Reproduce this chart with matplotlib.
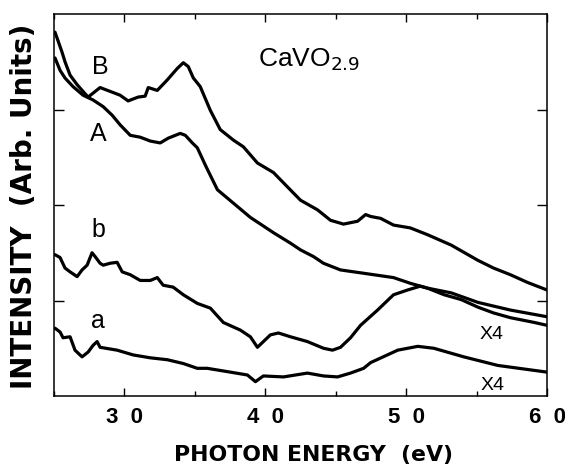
import matplotlib
matplotlib.use("Agg")
import matplotlib.pyplot as plt
from matplotlib.ticker import MultipleLocator

plt.rcParams['font.family'] = ['Liberation Sans', 'DejaVu Sans']

# ---- data (photon energy eV, intensity arb. units) ----
B_x = [25.07, 25.57, 25.78, 26.14, 26.64, 27.42, 28.27, 28.98, 29.69, 30.26, 30.97, 31.47,
       31.69, 32.33, 33.04, 33.75, 34.18, 34.53, 34.89, 35.38, 36.10, 36.80, 37.73, 38.44,
       39.44, 40.58, 41.57, 42.50, 43.70, 44.63, 45.55, 46.55, 47.12, 47.48, 48.19, 49.10,
       50.30, 51.50, 53.20, 55.10, 56.20, 57.40, 58.60, 60.0]
B_y = [3.81, 3.60, 3.50, 3.36, 3.26, 3.13, 3.23, 3.19, 3.15, 3.09, 3.13, 3.14,
       3.23, 3.20, 3.31, 3.43, 3.49, 3.45, 3.33, 3.24, 2.99, 2.79, 2.68, 2.61,
       2.44, 2.34, 2.19, 2.05, 1.95, 1.84, 1.80, 1.83, 1.90, 1.88, 1.86, 1.79,
       1.76, 1.69, 1.58, 1.42, 1.34, 1.27, 1.19, 1.11]

A_x = [25.07, 25.43, 25.78, 26.35, 27.06, 27.77, 28.49, 29.13, 29.69, 30.41, 31.12, 31.83,
       32.54, 33.11, 33.96, 34.32, 34.82, 35.17, 35.80, 36.60, 37.73, 38.94, 40.58, 41.79,
       42.50, 43.42, 44.13, 45.34, 46.76, 49.10, 50.30, 51.50, 53.20, 55.10, 57.40, 60.0]
A_y = [3.54, 3.41, 3.33, 3.24, 3.15, 3.10, 3.03, 2.94, 2.84, 2.73, 2.71, 2.67,
       2.65, 2.70, 2.75, 2.73, 2.65, 2.60, 2.40, 2.16, 2.02, 1.87, 1.71, 1.60,
       1.53, 1.46, 1.39, 1.32, 1.29, 1.24, 1.18, 1.13, 1.08, 0.98, 0.90, 0.83]

b_x = [25.07, 25.43, 25.78, 26.14, 26.64, 26.99, 27.35, 27.70, 27.92, 28.27, 28.49, 28.98,
       29.48, 29.84, 30.41, 31.12, 31.83, 32.33, 32.75, 33.46, 34.18, 35.17, 36.10, 37.02,
       38.23, 38.94, 39.44, 40.36, 40.93, 41.79, 42.99, 44.13, 44.77, 45.34, 46.05, 46.76,
       47.97, 49.10, 50.10, 51.00, 51.50, 52.70, 53.90, 55.10, 56.20, 57.40, 59.10, 60.0]
b_y = [1.48, 1.45, 1.34, 1.30, 1.25, 1.32, 1.37, 1.50, 1.46, 1.39, 1.37, 1.39,
       1.40, 1.30, 1.27, 1.21, 1.21, 1.24, 1.16, 1.14, 1.06, 0.97, 0.92, 0.77,
       0.69, 0.62, 0.51, 0.64, 0.66, 0.62, 0.57, 0.50, 0.48, 0.51, 0.61, 0.74,
       0.90, 1.06, 1.11, 1.15, 1.13, 1.06, 1.01, 0.93, 0.87, 0.82, 0.77, 0.74]

a_x = [25.07, 25.43, 25.64, 26.14, 26.49, 26.99, 27.42, 27.77, 28.06, 28.27, 29.48, 30.62,
       31.83, 33.04, 34.18, 35.17, 35.88, 37.52, 38.73, 39.30, 39.86, 41.29, 42.99, 44.13,
       45.13, 46.05, 46.98, 47.48, 49.40, 50.82, 51.96, 54.09, 56.51, 60.0]
a_y = [0.71, 0.67, 0.61, 0.62, 0.48, 0.41, 0.46, 0.53, 0.57, 0.51, 0.48, 0.43,
       0.40, 0.38, 0.34, 0.29, 0.29, 0.25, 0.22, 0.15, 0.21, 0.20, 0.24, 0.21,
       0.20, 0.24, 0.29, 0.35, 0.48, 0.52, 0.50, 0.41, 0.32, 0.25]

x_ticks = [30, 40, 50, 60]
x_ticklabels = ["3  0", "4  0", "5  0", "6  0"]

fig = plt.figure(figsize=(5.65, 4.75), dpi=100)
ax = fig.add_axes([0.0956, 0.1663, 0.8726, 0.8042])

for xs, ys in [(B_x, B_y), (A_x, A_y), (b_x, b_y), (a_x, a_y)]:
    ax.plot(xs, ys, color='black', lw=2.3, solid_capstyle='round', solid_joinstyle='round')

ax.set_xlim(25, 60)
ax.set_ylim(0, 4)
ax.set_xticks(x_ticks)
ax.set_xticklabels(x_ticklabels, fontsize=16, fontweight='bold')
ax.xaxis.set_minor_locator(MultipleLocator(5))
ax.set_yticks([1, 2, 3])
ax.set_yticklabels([])
ax.tick_params(which='both', direction='in', top=True, right=True, width=1.0)
ax.tick_params(axis='x', which='major', length=6, pad=8)
ax.tick_params(axis='x', which='minor', length=3.5)
ax.tick_params(axis='y', which='major', length=7)
for s in ax.spines.values():
    s.set_linewidth(1.1)

# curve labels
ax.text(28.27, 3.37, "B", fontsize=18, ha='center', va='baseline')
ax.text(28.15, 2.67, "A", fontsize=18, ha='center', va='baseline')
ax.text(28.15, 1.665, "b", fontsize=18, ha='center', va='baseline')
ax.text(28.10, 0.71, "a", fontsize=18, ha='center', va='baseline')
ax.text(56.05, 0.597, "X4", fontsize=14, ha='center', va='baseline')
ax.text(56.15, 0.063, "X4", fontsize=14, ha='center', va='baseline')
ax.text(39.5, 3.455, r"CaVO$_{2.9}$", fontsize=19, ha='left', va='baseline')

fig.text(0.554, 0.042, "PHOTON ENERGY  (eV)", fontsize=15.8, fontweight='bold',
         family='DejaVu Sans', ha='center', va='center')
fig.text(0.042, 0.566, "INTENSITY  (Arb. Units)", fontsize=20, fontweight='bold',
         family='DejaVu Sans', ha='center', va='center', rotation=90)

fig.savefig("out.png", dpi=100)
